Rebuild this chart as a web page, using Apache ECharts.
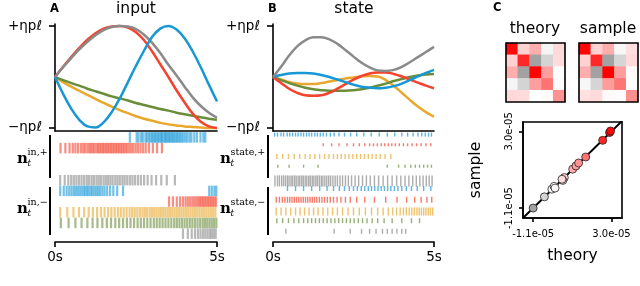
<!DOCTYPE html>
<html><head><meta charset="utf-8">
<script src="https://cdn.jsdelivr.net/npm/echarts@6/dist/echarts.min.js"></script>
<style>html,body{margin:0;padding:0;background:#fff}#c{width:640px;height:286px}</style>
</head><body><div id="c"></div>
<script>
// ---------- data ----------
const timeS = [0,0.25,0.5,0.75,1,1.25,1.5,1.75,2,2.25,2.5,2.75,3,3.25,3.5,3.75,4,4.25,4.5,4.75,5];
// panel A input curves (units of eta p l)
const inBlue   = [0,-0.33,-0.62,-0.84,-0.97,-0.99,-0.89,-0.69,-0.42,-0.10,0.22,0.52,0.79,0.95,1.0,0.93,0.76,0.50,0.19,-0.15,-0.48];
const inRed    = [0,0.20,0.39,0.57,0.73,0.86,0.95,0.99,1.0,0.97,0.88,0.72,0.50,0.25,0.0,-0.26,-0.50,-0.72,-0.88,-0.97,-1.0];
const inGrey   = [0,0.19,0.37,0.54,0.69,0.82,0.92,0.98,1.0,0.99,0.94,0.83,0.67,0.47,0.24,0.03,-0.19,-0.40,-0.57,-0.70,-0.80];
const inGreen  = [0,-0.06,-0.12,-0.17,-0.23,-0.28,-0.33,-0.38,-0.42,-0.46,-0.51,-0.55,-0.59,-0.63,-0.66,-0.70,-0.73,-0.76,-0.79,-0.82,-0.84];
const inOrange = [0,-0.10,-0.19,-0.27,-0.35,-0.43,-0.51,-0.58,-0.65,-0.71,-0.77,-0.82,-0.86,-0.90,-0.93,-0.95,-0.97,-0.98,-0.99,-1.0,-1.0];
// panel B state curves
const stGrey   = [0,0.20,0.42,0.60,0.72,0.78,0.78,0.74,0.65,0.53,0.40,0.28,0.19,0.13,0.12,0.14,0.20,0.29,0.39,0.49,0.59];
const stBlue   = [0,0.04,0.07,0.08,0.08,0.07,0.04,0.0,-0.05,-0.10,-0.15,-0.19,-0.21,-0.22,-0.21,-0.18,-0.13,-0.06,0.01,0.08,0.14];
const stRed    = [0,-0.12,-0.23,-0.31,-0.36,-0.37,-0.36,-0.31,-0.23,-0.14,-0.05,0.02,0.07,0.09,0.09,0.06,0.01,-0.05,-0.11,-0.17,-0.22];
const stOrange = [0,-0.05,-0.10,-0.13,-0.14,-0.14,-0.12,-0.09,-0.06,-0.03,-0.01,0.01,0.02,0.01,-0.06,-0.17,-0.31,-0.45,-0.58,-0.69,-0.78];
const stGreen  = [0,-0.06,-0.12,-0.17,-0.21,-0.24,-0.26,-0.27,-0.27,-0.27,-0.26,-0.24,-0.21,-0.17,-0.13,-0.08,-0.04,0.0,0.03,0.05,0.06];
const curveTicks = [-1, 1];
const curveTickText = ['\u2212\u03b7p\u2113', '+\u03b7p\u2113'];
const timeTicks = [0, 5];
const timeTickText = ['0s', '5s'];

// spike times (s), panel A
const inBlueP  = [2.31,2.52,2.58,2.66,2.71,2.79,2.84,2.9,2.95,3.0,3.04,3.09,3.13,3.18,3.22,3.27,3.3,3.35,3.39,3.43,3.47,3.51,3.55,3.6,3.63,3.68,3.72,3.77,3.81,3.86,3.91,3.96,4.02,4.08,4.15,4.21,4.3,4.38,4.49,4.58,4.64];
const inRedP   = [0.17,0.32,0.45,0.55,0.63,0.71,0.8,0.87,0.93,1.0,1.06,1.11,1.17,1.22,1.28,1.33,1.38,1.43,1.48,1.53,1.58,1.63,1.68,1.73,1.78,1.83,1.88,1.93,1.98,2.03,2.08,2.13,2.19,2.24,2.3,2.36,2.42,2.49,2.56,2.64,2.72,2.8,2.9,3.02,3.15,3.3];
const inOrangeP = [];
const inGreenP  = [];
const inGreyP  = [0.16,0.3,0.41,0.5,0.58,0.66,0.74,0.82,0.9,0.98,1.05,1.13,1.2,1.28,1.35,1.42,1.5,1.57,1.64,1.71,1.78,1.86,1.93,2.0,2.08,2.15,2.23,2.31,2.39,2.47,2.56,2.65,2.75,2.86,2.98,3.12,3.28,3.45,3.7];
const inBlueN  = [0.16,0.27,0.36,0.44,0.51,0.58,0.64,0.7,0.76,0.82,0.88,0.93,0.99,1.04,1.1,1.15,1.21,1.27,1.33,1.39,1.46,1.53,1.61,1.7,1.8,1.92,2.1,4.76,4.84,4.92,4.98];
const inRedN   = [3.52,3.64,3.76,3.86,3.95,4.03,4.1,4.17,4.24,4.3,4.36,4.42,4.47,4.52,4.57,4.62,4.67,4.72,4.77,4.82,4.87,4.92,4.97];
const inOrangeN = [0.16,0.38,0.57,0.74,0.9,1.04,1.17,1.3,1.42,1.53,1.64,1.74,1.84,1.94,2.03,2.12,2.21,2.3,2.38,2.46,2.54,2.62,2.7,2.77,2.84,2.92,2.99,3.06,3.13,3.2,3.27,3.34,3.41,3.48,3.55,3.62,3.69,3.76,3.83,3.9,3.97,4.04,4.11,4.18,4.25,4.32,4.39,4.46,4.53,4.6,4.67,4.74,4.81,4.88,4.95];
const inGreenN = [0.18,0.42,0.63,0.82,1.0,1.16,1.31,1.46,1.6,1.73,1.86,1.98,2.1,2.22,2.33,2.44,2.55,2.65,2.75,2.85,2.95,3.05,3.14,3.23,3.32,3.41,3.5,3.59,3.68,3.76,3.84,3.92,4.0,4.08,4.16,4.24,4.32,4.4,4.48,4.56,4.63,4.7,4.77,4.84,4.91,4.98];
const inGreyN  = [3.95,4.1,4.22,4.32,4.41,4.49,4.57,4.64,4.71,4.78,4.84,4.9,4.96];
// spike times (s), panel B
const stBlueP  = [0.05,0.14,0.25,0.33,0.44,0.52,0.61,0.7,0.78,0.87,0.95,1.04,1.12,1.2,1.3,1.38,1.47,1.56,1.66,1.78,1.9,2.05,2.22,2.41,2.6,2.82,3.05,3.3,3.55,3.78,4.0,4.18,4.35,4.5,4.62,4.73,4.83,4.92];
const stRedP   = [1.56,1.82,2.05,2.3,2.5,2.68,2.85,3.0,3.12,3.24,3.36,3.47,3.58,3.69,3.8,3.92,4.05,4.18,4.32,4.46,4.6,4.75,4.9];
const stOrangeP = [0.12,0.3,0.48,0.66,0.83,1.0,1.15,1.3,1.45,1.6,1.74,1.88,2.0,2.12,2.24,2.36,2.48,2.6,2.72,2.84,2.96,3.08,3.2,3.33,3.48,3.66];
const stGreenP = [0.15,0.5,0.95,1.4,3.55,3.9,4.1,4.28,4.42,4.55,4.68,4.8,4.92];
const stGreyP  = [0.06,0.14,0.2,0.27,0.33,0.39,0.45,0.5,0.56,0.61,0.67,0.72,0.78,0.83,0.89,0.94,1.0,1.05,1.11,1.16,1.22,1.27,1.33,1.38,1.44,1.5,1.55,1.61,1.67,1.73,1.79,1.86,1.93,2.0,2.08,2.16,2.25,2.34,2.44,2.55,2.66,2.78,2.9,3.02,3.15,3.28,3.42,3.56,3.7,3.84,3.97,4.1,4.22,4.34,4.45,4.56,4.66,4.76,4.85,4.94];
const stBlueN  = [0.45,0.7,0.95,1.2,1.45,1.68,1.88,2.06,2.22,2.37,2.5,2.62,2.74,2.85,2.96,3.06,3.16,3.26,3.36,3.46,3.56,3.66,3.77,3.88,4.0,4.14,4.3,4.48,4.68,4.9];
const stRedN   = [0.1,0.2,0.29,0.37,0.45,0.52,0.59,0.66,0.73,0.8,0.87,0.94,1.01,1.08,1.15,1.22,1.29,1.36,1.44,1.52,1.6,1.69,1.78,1.88,1.99,2.11,2.25,2.4,2.6,2.85,3.15,3.5,3.85,4.15,4.4,4.6,4.78,4.93];
const stOrangeN = [0.1,0.25,0.4,0.55,0.7,0.84,0.98,1.12,1.26,1.4,1.55,1.7,1.85,2.0,2.16,2.33,2.5,2.68,2.87,3.06,3.25,3.42,3.58,3.72,3.84,3.95,4.05,4.14,4.23,4.31,4.39,4.47,4.54,4.61,4.68,4.75,4.82,4.89,4.96];
const stGreenN = [0.12,0.3,0.48,0.65,0.8,0.95,1.08,1.2,1.32,1.44,1.56,1.68,1.8,1.92,2.04,2.16,2.28,2.4,2.52,2.65,2.78,2.92,3.08,3.25,3.45,3.7,4.0,4.3,4.55];
const stGreyN  = [0.4,1.9,2.4,2.75,3.0,3.2,3.4,3.55,3.7,3.85,4.0,4.12];

// panel C: covariance entries (upper triangle of 5x5)
const covPairs  = [[0,0],[0,1],[0,2],[0,3],[0,4],[1,1],[1,2],[1,3],[1,4],[2,2],[2,3],[2,4],[3,3],[3,4],[4,4]];
const theoryCov = [2.90e-5,0.53e-5,0.97e-5,-0.12e-5,0.45e-5,2.54e-5,-1.10e-5,-0.51e-5,0.41e-5,2.95e-5,1.14e-5,0.00e-5,1.65e-5,0.05e-5,1.28e-5];
const sampleCov = [2.94e-5,0.53e-5,0.98e-5,-0.09e-5,0.38e-5,2.52e-5,-1.10e-5,-0.50e-5,0.44e-5,3.02e-5,1.15e-5,0.06e-5,1.63e-5,-0.03e-5,1.31e-5];
const matIdx = ['0','1','2','3','4'];
const scTicks = [-1.1e-5, 3.0e-5];
const scTickText = ['-1.1e-05', '3.0e-05'];

// ---------- styles ----------
const C = {blue:'#1897d5', red:'#f3432e', grey:'#8a8a8a', green:'#6b8d3a', orange:'#e8a82e'};
const FONT = 'DejaVu Sans';
const black = {color:'#000', width:1.6};

const chart = echarts.init(document.getElementById('c'), null, {renderer:'canvas'});

function lookup(vals, texts){ return v => { let b=0; vals.forEach((t,i)=>{ if(Math.abs(t-v) < Math.abs(vals[b]-v)) b=i; }); return texts[b]; }; }

const grids = [
  {left:55, top:24, width:162, height:107},
  {left:55, top:131, width:162, height:111},
  {left:273, top:24, width:161, height:107},
  {left:273, top:131, width:161, height:111},
  {left:506, top:43, width:59, height:59, show:true, borderColor:'#000', borderWidth:1.6, z:10},
  {left:579, top:43, width:59, height:59, show:true, borderColor:'#000', borderWidth:1.6, z:10},
  {left:523, top:122, width:99, height:96, show:true, borderColor:'#000', borderWidth:1.6}
];

function curveX(g){ return {gridIndex:g, type:'value', min:0, max:5, axisLine:{show:true, onZero:false, lineStyle:black}, axisTick:{show:false}, axisLabel:{show:false}, splitLine:{show:false}}; }
function curveY(g){ return {gridIndex:g, type:'value', min:-1.06, max:1.04, axisLine:{show:true, onZero:false, lineStyle:black},
  axisTick:{show:true, customValues:curveTicks, length:6, lineStyle:black},
  axisLabel:{customValues:curveTicks, formatter:lookup(curveTicks, curveTickText), fontSize:13.5, color:'#000', margin:13, fontFamily:FONT},
  splitLine:{show:false}}; }
function rasterX(g){ return {gridIndex:g, type:'value', min:0, max:5, axisLine:{show:true, onZero:false, lineStyle:black},
  axisTick:{show:true, customValues:timeTicks, length:5, lineStyle:black},
  axisLabel:{customValues:timeTicks, formatter:lookup(timeTicks, timeTickText), fontSize:13.5, color:'#000', margin:8, fontFamily:FONT},
  splitLine:{show:false}}; }
function rasterY(g){ return {gridIndex:g, type:'value', min:-0.1, max:10.28, inverse:true, show:false}; }
function catX(g){ return {gridIndex:g, type:'category', data:matIdx, show:false}; }
function catY(g){ return {gridIndex:g, type:'category', data:matIdx, inverse:true, show:false}; }

const xAxes = [curveX(0), rasterX(1), curveX(2), rasterX(3), catX(4), catX(5),
  {gridIndex:6, type:'value', min:-1.63e-5, max:3.55e-5, axisLine:{show:true, onZero:false, lineStyle:black},
   axisTick:{show:true, customValues:scTicks, length:4, lineStyle:black},
   axisLabel:{customValues:scTicks, formatter:lookup(scTicks, scTickText), fontSize:10, color:'#000', margin:11, fontFamily:FONT},
   splitLine:{show:false}, name:'theory', nameLocation:'middle', nameGap:30, nameTextStyle:{fontSize:15.5, color:'#000', fontFamily:FONT}}];
const yAxes = [curveY(0), rasterY(1), curveY(2), rasterY(3), catY(4), catY(5),
  {gridIndex:6, type:'value', min:-1.63e-5, max:3.5e-5, axisLine:{show:true, onZero:false, lineStyle:black},
   axisTick:{show:true, customValues:scTicks, length:4, lineStyle:black},
   axisLabel:{customValues:scTicks, formatter:lookup(scTicks, scTickText), fontSize:10, color:'#000', margin:9, rotate:90, fontFamily:FONT},
   splitLine:{show:false}, name:'sample', nameLocation:'middle', nameGap:39, nameTextStyle:{fontSize:15.5, color:'#000', fontFamily:FONT}}];

const series = [];
function addCurve(ax, vals, color){
  series.push({type:'line', xAxisIndex:ax, yAxisIndex:ax, data:timeS.map((t,i)=>[t, vals[i]]), smooth:0.4,
    showSymbol:false, lineStyle:{color:color, width:2.5}, itemStyle:{color:color}, z:3});
}
[[inOrange,C.orange],[inGreen,C.green],[inRed,C.red],[inGrey,C.grey],[inBlue,C.blue]].forEach(p=>addCurve(0,p[0],p[1]));
[[stOrange,C.orange],[stGreen,C.green],[stRed,C.red],[stBlue,C.blue],[stGrey,C.grey]].forEach(p=>addCurve(2,p[0],p[1]));

const rowColors = [C.blue,C.red,C.orange,C.green,C.grey,C.blue,C.red,C.orange,C.green,C.grey];
const inRows = [inBlueP,inRedP,inOrangeP,inGreenP,inGreyP,inBlueN,inRedN,inOrangeN,inGreenN,inGreyN];
const stRows = [stBlueP,stRedP,stOrangeP,stGreenP,stGreyP,stBlueN,stRedN,stOrangeN,stGreenN,stGreyN];
const stTickH = [4,3,5,3,11,5,6,8,5,5];
const rowPx = 10.69;
inRows.forEach((arr,r)=>{
  series.push({type:'scatter', xAxisIndex:1, yAxisIndex:1, symbol:'rect', symbolSize:[2.2,10.5],
    data:arr.map(t=>[t, r+0.5]), itemStyle:{color:rowColors[r], opacity:0.6}, silent:true});
});
stRows.forEach((arr,r)=>{
  const h = stTickH[r];
  series.push({type:'scatter', xAxisIndex:3, yAxisIndex:3, symbol:'rect', symbolSize:[1.4,h],
    data:arr.map(t=>[t, r + 0.05 + h/2/rowPx]), itemStyle:{color:rowColors[r], opacity:0.7}, silent:true});
});

function matrix(vals){ const d=[]; covPairs.forEach((p,k)=>{ d.push([p[1],p[0],vals[k]]); if(p[0]!==p[1]) d.push([p[0],p[1],vals[k]]); }); return d; }
const hmT = series.length;
series.push({type:'heatmap', xAxisIndex:4, yAxisIndex:4, data:matrix(theoryCov)});
const hmS = series.length;
series.push({type:'heatmap', xAxisIndex:5, yAxisIndex:5, data:matrix(sampleCov)});
series.push({type:'line', xAxisIndex:6, yAxisIndex:6, data:[[-1.63e-5,-1.63e-5],[3.55e-5,3.55e-5]], showSymbol:false,
  lineStyle:{color:'#000', width:2}, clip:true, z:2});
const sc = series.length;
series.push({type:'scatter', xAxisIndex:6, yAxisIndex:6, data:theoryCov.map((v,i)=>[v, sampleCov[i]]), symbolSize:8,
  itemStyle:{borderColor:'#222', borderWidth:0.8, opacity:1}, z:4});

const cmap = ['#000000','#ffffff','#ff0000'];
const txt = (x,y,text,font,align) => ({type:'text', x:x, y:y, style:{text:text, font:font, fill:'#000', align:align||'left', verticalAlign:'middle', textAlign:align||'left', textVerticalAlign:'middle'}});
const ln = (x1,y1,x2,y2) => ({type:'line', shape:{x1,y1,x2,y2}, style:{stroke:'#000', lineWidth:2}});
const SERIF = 'DejaVu Serif';
function nLabel(x, y, sup){
  return [txt(x, y, 'n', 'bold 15px "'+SERIF+'"'),
          txt(x+10.5, y+5, 't', 'italic 9px "'+SERIF+'"'),
          txt(x+10.5, y-6, sup, '9.5px "'+SERIF+'"')];
}

chart.setOption({
  animation:false,
  backgroundColor:'#fff',
  textStyle:{fontFamily:FONT},
  grid:grids, xAxis:xAxes, yAxis:yAxes, series:series,
  visualMap:[
    {type:'continuous', show:false, min:-3e-5, max:3e-5, dimension:2, seriesIndex:[hmT,hmS], inRange:{color:cmap}},
    {type:'continuous', show:false, min:-3e-5, max:3e-5, dimension:0, seriesIndex:[sc], inRange:{color:cmap}}
  ],
  graphic:[
    txt(50, 9, 'A', 'bold 11.5px "'+FONT+'"'),
    txt(136, 9, 'input', '15.5px "'+FONT+'"', 'center'),
    txt(268, 9, 'B', 'bold 11.5px "'+FONT+'"'),
    txt(354, 9, 'state', '15.5px "'+FONT+'"', 'center'),
    txt(493, 8, 'C', 'bold 11.5px "'+FONT+'"'),
    txt(535, 29, 'theory', '15.5px "'+FONT+'"', 'center'),
    txt(608, 29, 'sample', '15.5px "'+FONT+'"', 'center'),
    ln(50,135,50,178), ln(50,187,50,235),
    ln(268,135,268,178), ln(268,187,268,235)
  ].concat(nLabel(17,159,'in,+'), nLabel(17,209,'in,\u2212'), nLabel(220,159,'state,+'), nLabel(220,209,'state,\u2212'))
});
</script></body></html>
